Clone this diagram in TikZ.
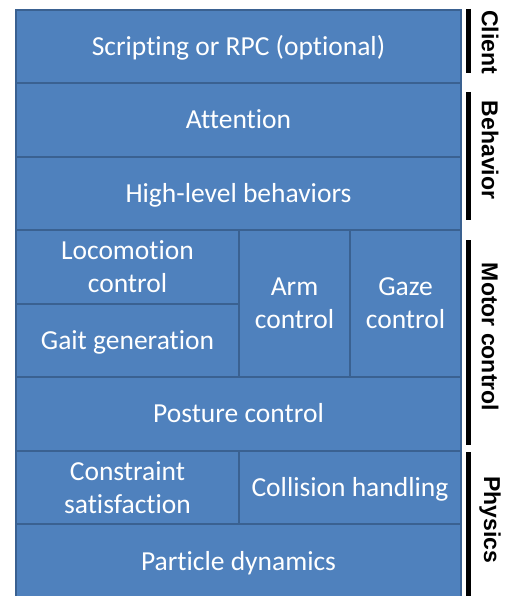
\documentclass[tikz,border=0pt]{standalone}
\usepackage{fontspec}
\newfontfamily\boxfont[Ligatures={NoCommon}]{Carlito}
\newfontfamily\labfont{Liberation Sans}
\definecolor{boxblue}{HTML}{4F81BD}
\definecolor{boxedge}{HTML}{3A6191}
\begin{document}
\begin{tikzpicture}[x=1pt,y=-1pt,
  blk/.style={draw=boxedge, fill=boxblue, line width=2pt, text=white,
    font=\boxfont\fontsize{27.5}{33}\selectfont, align=center,
    anchor=north west, inner sep=0pt},
  one/.style={text height=17.7pt, text depth=0pt},
  bar/.style={line width=5pt, black},
  side/.style={rotate=-90, font=\labfont\bfseries\fontsize{23}{26}\selectfont, inner sep=0pt}]
\useasboundingbox (0,0) rectangle (505,596);
\node[blk, one, minimum width=445pt, minimum height=73pt] (script) at (15,9) {Scripting or RPC (optional)};
\node[blk, one, minimum width=445pt, minimum height=74pt] (att) at (15,82) {Attention};
\node[blk, one, minimum width=445pt, minimum height=73pt] (high) at (15,156) {High-level behaviors};
\node[blk, minimum width=223pt, minimum height=74pt] (loco) at (15,229) {Locomotion\\control};
\node[blk, one, minimum width=223pt, minimum height=73pt] (gait) at (15,303) {Gait generation};
\node[blk, minimum width=111pt, minimum height=147pt] (arm) at (238,229) {Arm\\control};
\node[blk, minimum width=111pt, minimum height=147pt] (gaze) at (349,229) {Gaze\\control};
\node[blk, one, minimum width=445pt, minimum height=74pt] (post) at (15,376) {Posture control};
\node[blk, minimum width=223pt, minimum height=73pt] (cons) at (15,450) {Constraint\\satisfaction};
\node[blk, one, minimum width=222pt, minimum height=73pt] (coll) at (238,450) {Collision handling};
\node[blk, one, minimum width=445pt, minimum height=76pt] (part) at (15,523) {Particle dynamics};
\coordinate (c1) at (468,9);   \coordinate (c2) at (468,73);
\coordinate (b1) at (468,92);  \coordinate (b2) at (468,220);
\coordinate (m1) at (468,240); \coordinate (m2) at (468,445);
\coordinate (p1) at (468,452); \coordinate (p2) at (468,598);
\draw[bar] (c1) -- (c2);
\draw[bar] (b1) -- (b2);
\draw[bar] (m1) -- (m2);
\draw[bar] (p1) -- (p2);
\node[side] (lclient) at (490,42) {Client};
\node[side] (lbeh) at (490,150) {Behavior};
\node[side] (lmot) at (490,337) {Motor control};
\node[side] (lphy) at (490,520) {Physics};
\end{tikzpicture}
\end{document}
